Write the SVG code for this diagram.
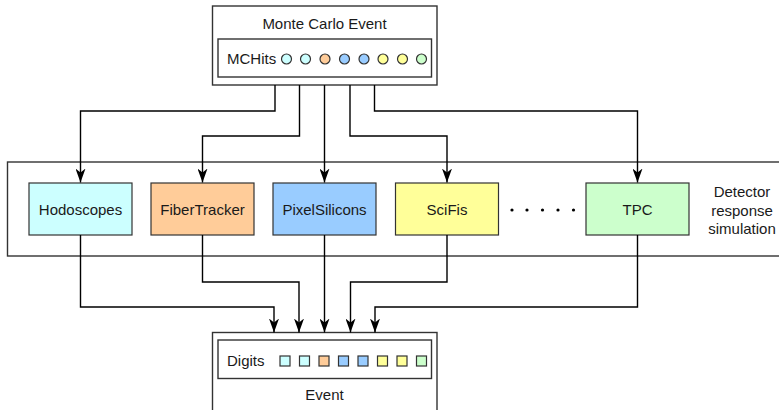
<svg xmlns="http://www.w3.org/2000/svg" width="779" height="410" viewBox="0 0 779 410">
  <style>
    .frame { fill: #ffffff; stroke: #333333; stroke-width: 1.4; }
    .inner { fill: #ffffff; stroke: #333333; stroke-width: 1.4; }
    .node { stroke: #333333; stroke-width: 1.2; }
    .lbl { font-family: "Liberation Sans", Arial, sans-serif; font-size: 15px; fill: #1a1a1a; }
    .mid { text-anchor: middle; }
    .hit { stroke: #333333; stroke-width: 1.2; }
    .edge { fill: none; stroke: #000000; stroke-width: 1.4; marker-end: url(#arrow); }
    .cyan { fill: #ccffff; }
    .orange { fill: #ffcc99; }
    .blue { fill: #99ccff; }
    .yellow { fill: #ffff99; }
    .green { fill: #ccffcc; }
  </style>
  <defs>
    <marker id="arrow" markerUnits="userSpaceOnUse" viewBox="0 0 14 10" markerWidth="14" markerHeight="10" refX="14" refY="5" orient="auto">
      <path d="M0,0 L14,5 L0,10 L4,5 Z" fill="#000000"/>
    </marker>
  </defs>
  <rect width="779" height="410" fill="#ffffff"/>

  <!-- detector response simulation container -->
  <g id="detector-sim">
    <rect class="frame" x="7.5" y="162" width="790" height="94"/>
    <text class="lbl mid" x="742" y="197">Detector</text>
    <text class="lbl mid" x="742" y="215.5">response</text>
    <text class="lbl mid" x="742" y="234">simulation</text>
  </g>

  <!-- Monte Carlo event with hits -->
  <g id="mc-event">
    <rect class="frame" x="212.5" y="6" width="224.5" height="79"/>
    <text class="lbl mid" x="324.5" y="29">Monte Carlo Event</text>
    <rect class="inner" x="218" y="39" width="213.5" height="38"/>
    <text class="lbl" x="227" y="64">MCHits</text>
    <circle class="hit cyan" cx="286.5" cy="59" r="5"/>
    <circle class="hit cyan" cx="305.5" cy="59" r="5"/>
    <circle class="hit orange" cx="325" cy="59" r="5"/>
    <circle class="hit blue" cx="344.5" cy="59" r="5"/>
    <circle class="hit blue" cx="364" cy="59" r="5"/>
    <circle class="hit yellow" cx="383" cy="59" r="5"/>
    <circle class="hit yellow" cx="402.5" cy="59" r="5"/>
    <circle class="hit green" cx="421.5" cy="59" r="5"/>
  </g>

  <!-- reconstructed event with digits -->
  <g id="event">
    <rect class="frame" x="212.5" y="332.5" width="224.5" height="100"/>
    <rect class="inner" x="218" y="340" width="213.5" height="38.5"/>
    <text class="lbl" x="227" y="366">Digits</text>
    <rect class="hit cyan" x="280" y="356" width="10" height="10"/>
    <rect class="hit cyan" x="299.5" y="356" width="10" height="10"/>
    <rect class="hit orange" x="319" y="356" width="10" height="10"/>
    <rect class="hit blue" x="338.5" y="356" width="10" height="10"/>
    <rect class="hit blue" x="358" y="356" width="10" height="10"/>
    <rect class="hit yellow" x="377.5" y="356" width="10" height="10"/>
    <rect class="hit yellow" x="397" y="356" width="10" height="10"/>
    <rect class="hit green" x="416.5" y="356" width="10" height="10"/>
    <text class="lbl mid" x="324.5" y="400">Event</text>
  </g>

  <!-- detector nodes -->
  <g id="hodoscopes">
    <rect class="node cyan" x="29" y="183" width="103" height="52"/>
    <text class="lbl mid" x="80.5" y="215">Hodoscopes</text>
  </g>
  <g id="fibertracker">
    <rect class="node orange" x="151" y="183" width="103" height="52"/>
    <text class="lbl mid" x="202.5" y="215">FiberTracker</text>
  </g>
  <g id="pixelsilicons">
    <rect class="node blue" x="273" y="183" width="103" height="52"/>
    <text class="lbl mid" x="324.5" y="215">PixelSilicons</text>
  </g>
  <g id="scifis">
    <rect class="node yellow" x="395.5" y="183" width="103" height="52"/>
    <text class="lbl mid" x="447" y="215">SciFis</text>
  </g>
  <g id="tpc">
    <rect class="node green" x="586" y="183" width="103" height="52"/>
    <text class="lbl mid" x="637.5" y="215">TPC</text>
  </g>
  <g id="ellipsis" fill="#000000">
    <circle cx="512" cy="210" r="1.6"/>
    <circle cx="527" cy="210" r="1.6"/>
    <circle cx="542.5" cy="210" r="1.6"/>
    <circle cx="558" cy="210" r="1.6"/>
    <circle cx="573.5" cy="210" r="1.6"/>
  </g>

  <!-- connectors -->
  <g id="connectors">
    <path class="edge" d="M275,85 V111 H80.5 V182.5"/>
    <path class="edge" d="M299.5,85 V136 H202.5 V182.5"/>
    <path class="edge" d="M324.5,85 V182.5"/>
    <path class="edge" d="M350,85 V136 H447 V182.5"/>
    <path class="edge" d="M374.5,85 V111 H637.5 V182.5"/>
    <path class="edge" d="M80.5,235 V307 H274 V332.5"/>
    <path class="edge" d="M202.5,235 V282 H299 V332.5"/>
    <path class="edge" d="M324.5,235 V332.5"/>
    <path class="edge" d="M447,235 V282 H350.5 V332.5"/>
    <path class="edge" d="M637.5,235 V307 H375 V332.5"/>
  </g>
</svg>
